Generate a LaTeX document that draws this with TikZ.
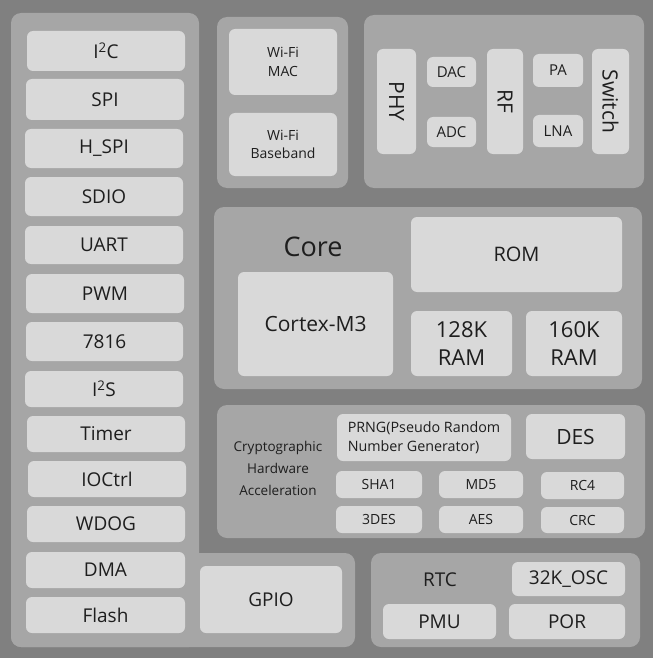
\documentclass[tikz,border=0pt]{standalone}
\usepackage{fontspec}
\setmainfont{Open Sans}
\definecolor{bgc}{HTML}{808080}
\definecolor{panelc}{HTML}{A6A6A6}
\definecolor{boxc}{HTML}{D9D9D9}
\definecolor{txtc}{HTML}{1E1E1E}
\newcommand{\fs}[2]{\fontsize{#1}{#2}\selectfont}
\newcommand{\bx}[7][]{\node[box,minimum width={(#5-#3)*1pt},minimum height={(#6-#4)*1pt},#1] (#2) at ({(#3+#5)/2},{(#4+#6)/2}) {#7};}
\newcommand{\pn}[5]{\node[panel,minimum width={(#4-#2)*1pt},minimum height={(#5-#3)*1pt}] (#1) at ({(#2+#4)/2},{(#3+#5)/2}) {};}
\newcommand{\rbx}[7][]{\node[box,minimum width={(#5-#3)*1pt},minimum height={(#6-#4)*1pt}] (#2) at ({(#3+#5)/2},{(#4+#6)/2}) {};
\node[rotate=-90,text=txtc,#1] (#2t) at (#2.center) {#7};}
\tikzset{
  box/.style={fill=boxc,rounded corners=6pt,inner sep=0pt,align=center,text=txtc,font=\fs{19}{22}},
  panel/.style={fill=panelc,rounded corners=10pt,inner sep=0pt},
  lbl/.style={text=txtc,inner sep=0pt,align=center}
}
\begin{document}
\begin{tikzpicture}[x=1pt,y=-1pt]
\fill[bgc] (0,0) rectangle (653,658);
\useasboundingbox (0,0) rectangle (653,658);
% left L-shaped panel
\fill[panelc,rounded corners=10pt] (11,13) rectangle (199,647);
\fill[panelc,rounded corners=10pt] (11,553) rectangle (355,647);
% left column
\bx{i2c}{27}{31}{185}{71}{I\textsuperscript{2}C}
\bx{spi}{26}{79}{184}{120}{SPI}
\bx{hspi}{25}{129}{183}{168}{H\_SPI}
\bx{sdio}{25}{177}{183}{216}{SDIO}
\bx{uart}{25}{226}{183}{264}{UART}
\bx{pwm}{26}{274}{184}{313}{PWM}
\bx{s7816}{26}{322}{183}{361}{7816}
\bx{i2s}{25}{371}{183}{407}{I\textsuperscript{2}S}
\bx{timer}{27}{416}{185}{452}{Timer}
\bx{ioctrl}{28}{461}{186}{497}{IOCtrl}
\bx{wdog}{27}{506}{185}{542}{WDOG}
\bx{dma}{26}{552}{185}{588}{DMA}
\bx{flash}{26}{597}{185}{633}{Flash}
\bx{gpio}{200}{566}{342}{633}{GPIO}
% wifi panel
\pn{wifip}{217}{17}{348}{188}
\bx[font=\fs{14}{19}]{wmac}{229}{29}{337}{95}{Wi-Fi\\MAC}
\bx[font=\fs{14}{18}]{wbb}{229}{113}{337}{176}{Wi-Fi\\Baseband}
% rf panel
\pn{rfp}{364}{15}{644}{188}
\rbx[font=\fs{21}{24}]{phy}{377}{49}{416}{154}{PHY}
\bx[font=\fs{15}{18}]{dac}{427}{57}{476}{87}{DAC}
\bx[font=\fs{15}{18}]{adc}{427}{117}{476}{147}{ADC}
\rbx[font=\fs{21}{24}]{rf}{487}{49}{523}{154}{RF}
\bx[font=\fs{15}{18}]{pa}{533}{54}{583}{87}{PA}
\bx[font=\fs{15}{18}]{lna}{533}{115}{583}{147}{LNA}
\rbx[font=\fs{21}{24}]{switch}{592}{49}{629}{154}{Switch}
% core panel
\pn{corep}{214}{207}{642}{389}
\node[lbl,font=\fs{27}{30}] (core) at (313,247) {Core};
\bx[font=\fs{21}{24}]{cortex}{238}{272}{393}{376}{Cortex-M3}
\bx[font=\fs{20}{23}]{rom}{411}{217}{622}{292}{ROM}
\bx[font=\fs{22}{28}]{ram1}{411}{311}{512}{376}{128K\\RAM}
\bx[font=\fs{22}{28}]{ram2}{526}{311}{622}{376}{160K\\RAM}
% crypto panel
\pn{cryp}{217}{405}{645}{538}
\node[lbl,font=\fs{13.5}{22}] (crylbl) at (278,468) {Cryptographic\\Hardware\\Acceleration};
\bx[font=\fs{14.3}{18.5},align=left]{prng}{337}{414}{511}{461}{PRNG(Pseudo Random\\Number Generator)}
\bx[font=\fs{21}{24}]{des}{526}{414}{625}{459}{DES}
\bx[font=\fs{14}{17}]{sha}{336}{471}{422}{498}{SHA1}
\bx[font=\fs{14}{17}]{md5}{439}{471}{523}{498}{MD5}
\bx[font=\fs{14}{17}]{rc4}{541}{472}{624}{499}{RC4}
\bx[font=\fs{14}{17}]{tdes}{336}{506}{422}{533}{3DES}
\bx[font=\fs{14}{17}]{aes}{439}{506}{523}{533}{AES}
\bx[font=\fs{14}{17}]{crc}{541}{507}{624}{533}{CRC}
% rtc panel
\pn{rtcp}{371}{553}{640}{647}
\node[lbl,font=\fs{19}{22}] (rtc) at (440,580) {RTC};
\bx{osc}{512}{562}{625}{596}{32K\_OSC}
\bx{pmu}{383}{604}{496}{639}{PMU}
\bx{por}{509}{604}{625}{639}{POR}
\end{tikzpicture}
\end{document}
